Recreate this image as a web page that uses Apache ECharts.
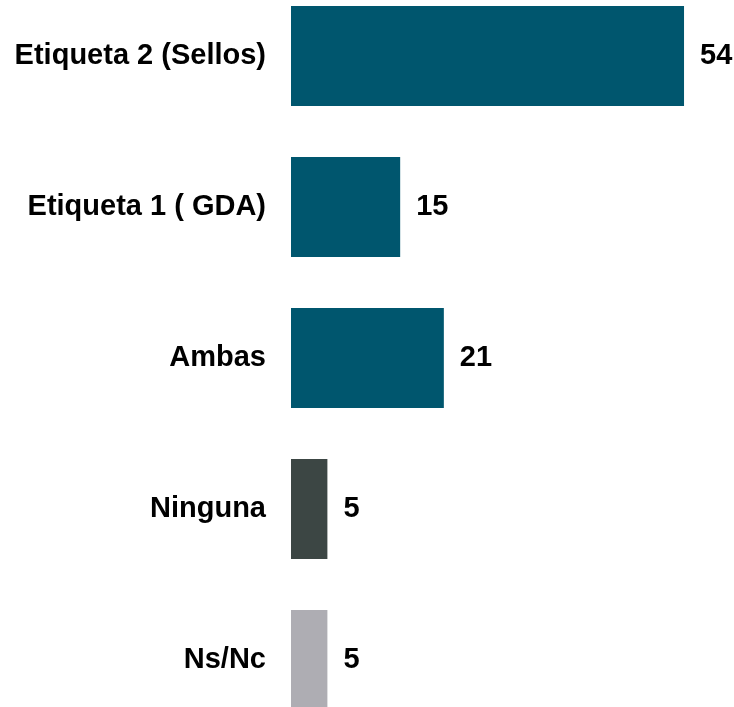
<!DOCTYPE html>
<html>
<head>
<meta charset="utf-8">
<script src="https://cdn.jsdelivr.net/npm/echarts@6/dist/echarts.min.js"></script>
<style>
  html, body { margin: 0; padding: 0; background: #fff; }
  #chart { width: 734px; height: 707px; }
</style>
</head>
<body>
<div id="chart"></div>
<script>
const categories = ['Etiqueta 2 (Sellos)', 'Etiqueta 1 ( GDA)', 'Ambas', 'Ninguna', 'Ns/Nc'];
const values = [54, 15, 21, 5, 5];
const barColors = ['#00566E', '#00566E', '#00566E', '#3C4644', '#AEADB3'];

const chart = echarts.init(document.getElementById('chart'));

const labelFont = {
  color: '#000',
  fontFamily: 'Liberation Sans, Arial, sans-serif',
  fontWeight: 'bold',
  fontSize: 29,
  padding: [6, 0, 0, 0]
};

const options = {
  animation: false,
  grid: {
    left: 291,
    top: -19.5,
    width: 436.7,
    height: 755,
    outerBoundsMode: 'none',
    containLabel: false
  },
  xAxis: {
    type: 'value',
    min: 0,
    max: 60,
    show: false
  },
  yAxis: {
    type: 'category',
    inverse: true,
    data: categories,
    axisLine: { show: false },
    axisTick: { show: false },
    axisLabel: Object.assign({ margin: 25 }, labelFont)
  },
  series: [
    {
      type: 'bar',
      barWidth: 100,
      data: values.map((v, i) => ({ value: v, itemStyle: { color: barColors[i] } })),
      label: Object.assign({ show: true, position: 'right', distance: 16 }, labelFont)
    }
  ]
};

chart.setOption(options);
</script>
</body>
</html>
